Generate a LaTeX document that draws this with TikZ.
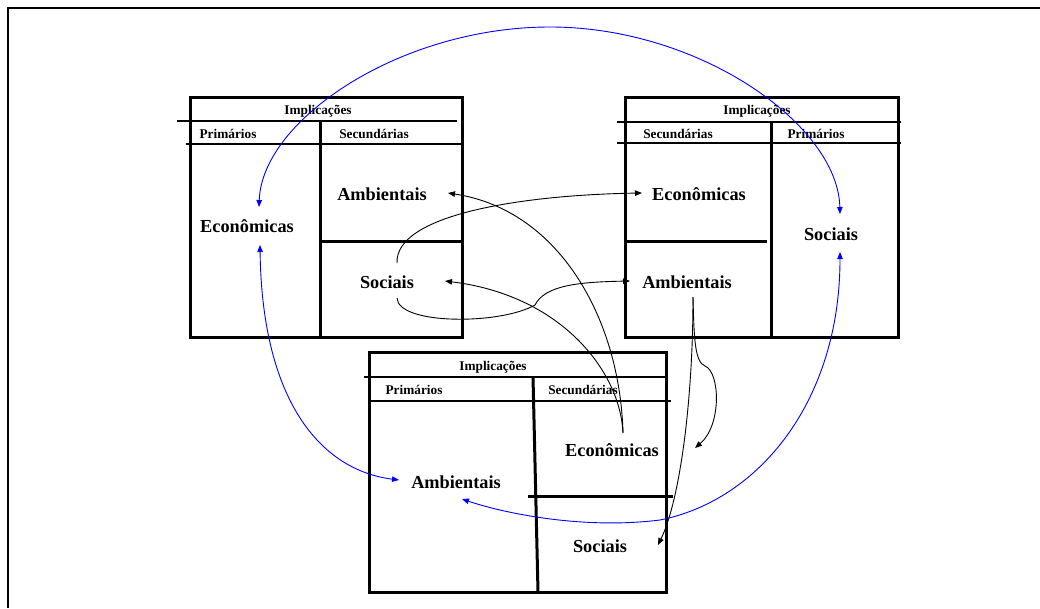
\documentclass[tikz,border=0pt]{standalone}
\usepackage{fontspec}
\setmainfont{Liberation Serif}
\usetikzlibrary{arrows.meta}
\begin{document}
\begin{tikzpicture}[x=1pt,y=-1pt,
  boxline/.style={line width=3pt},
  rule/.style={line width=2.4pt},
  head/.style={inner sep=0pt,font=\fontsize{13.3}{15}\selectfont\bfseries},
  item/.style={inner sep=0pt,font=\fontsize{18.3}{21}\selectfont\bfseries},
  link/.style={line width=0.9pt,-{Triangle[length=7pt,width=5.5pt]}},
  duallink/.style={line width=0.9pt,blue,{Triangle[length=7pt,width=5.5pt]}-{Triangle[length=7pt,width=5.5pt]}}]
\useasboundingbox (0,0) rectangle (1040,608);
% page frame (top and left edges)
\draw[line width=2pt] (1040,7.5) -- (7.5,7.5) -- (7.5,608);

% first table
\draw[boxline] (190,97) rectangle (462,337);
\draw[rule] (177,121) -- (457,121);
\draw[rule] (186,144) -- (462,144);
\draw[boxline] (320,121) -- (320,337);
\draw[boxline] (322,241) -- (462,241);
\node[head] (h1) at (318,111) {Implicações};
\node[head] (p1) at (228,134) {Primários};
\node[head] (c1) at (374,134) {Secundárias};
\node[item] (e1) at (247,226) {Econômicas};
\node[item] (a1) at (382,194) {Ambientais};
\node[item] (s1) at (387,282) {Sociais};

% second table
\draw[boxline] (625,97) rectangle (898,337);
\draw[rule] (617,122) -- (901,122);
\draw[rule] (617,143) -- (901,143);
\draw[boxline] (771,122) -- (771,337);
\draw[boxline] (625,241) -- (767,241);
\node[head] (h2) at (757,111) {Implicações};
\node[head] (c2) at (678,134) {Secundárias};
\node[head] (p2) at (816,134) {Primários};
\node[item] (e2) at (699,194) {Econômicas};
\node[item] (a2) at (687,282) {Ambientais};
\node[item] (s2) at (831,234) {Sociais};

% third table
\draw[boxline] (369,352) rectangle (666,592);
\draw[rule] (364,377) -- (666,377);
\draw[rule] (369,401) -- (671,401);
\draw[boxline] (533,377) -- (538,592);
\draw[boxline] (528,496) -- (673,496);
\node[head] (h3) at (493,367) {Implicações};
\node[head] (p3) at (414,390) {Primários};
\node[head] (c3) at (583,390) {Secundárias};
\node[item] (e3) at (612,450) {Econômicas};
\node[item] (a3) at (456,482) {Ambientais};
\node[item] (s3) at (600,546) {Sociais};

% primary links (blue, both ways)
\draw[duallink] ([shift={(12,-19)}]e1.center) .. controls (262,120) and (400,27) .. (550,27)
  .. controls (700,27) and (838,125) .. ([shift={(9,-20)}]s2.center);
\draw[duallink] ([shift={(13,19)}]e1.center) .. controls (262,400) and (320,470) .. ([shift={(-57,-2)}]a3.center);
\draw[duallink] ([shift={(9,18)}]s2.center) .. controls (840,400) and (760,500) .. (660,520)
  .. controls (580,530) and (500,512) .. ([shift={(6,17)}]a3.center);

% secondary links (black)
\draw[link] ([shift={(10,-19)}]s1.center) .. controls (395,215) and (520,195) .. ([shift={(-57,-1)}]e2.center);
\draw[link] ([shift={(10,16)}]s1.center) .. controls (398,325) and (500,325) .. (535,305)
  .. controls (545,285) and (580,282) .. ([shift={(-57,-1)}]a2.center);
\draw[link] ([shift={(11,-17)}]e3.center) .. controls (620,320) and (560,210) .. ([shift={(66,-1)}]a1.center);
\draw[link] ([shift={(11,-17)}]e3.center) .. controls (620,370) and (560,295) .. ([shift={(58,-1)}]s1.center);
\draw[link] ([shift={(6,15)}]a2.center) .. controls (694,340) and (695,362) .. (705,366)
  .. controls (720,372) and (722,425) .. ([shift={(83,-2)}]e3.center);
\draw[link] ([shift={(6,15)}]a2.center) .. controls (693,400) and (680,500) .. ([shift={(58,-1)}]s3.center);
\end{tikzpicture}
\end{document}
